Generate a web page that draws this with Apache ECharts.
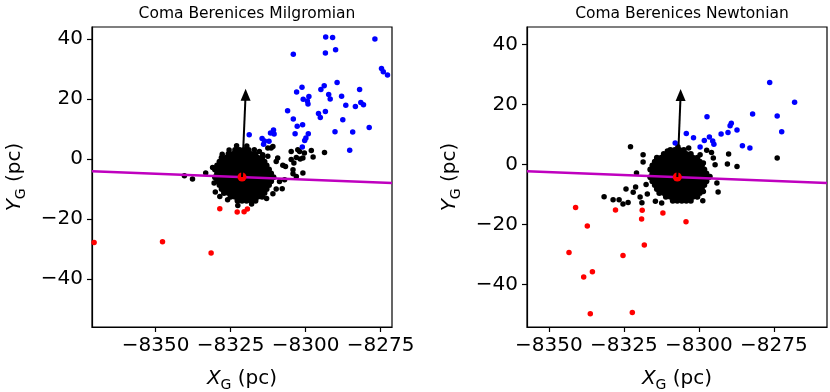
<!DOCTYPE html>
<html><head><meta charset="utf-8">
<script src="https://cdn.jsdelivr.net/npm/echarts@6/dist/echarts.min.js"></script>
<style>html,body{margin:0;padding:0;background:#fff}#c{width:830px;height:392px}</style>
</head><body><div id="c"></div>
<script>
const titles = ['Coma Berenices Milgromian', 'Coma Berenices Newtonian'];
const xTicks = [-8350, -8325, -8300, -8275];
const yTicks = [-40, -20, 0, 20, 40];
const xRanges = [[-8371.2, -8271.2], [-8357.3, -8257.3]];
const yRanges = [[-56, 44], [-54.1, 45.9]];

// dense core of each cluster, rows: [y, [x...]]
const coreRowsL = [
 [3.0, [-8323.5,-8322.0,-8320.5,-8319.0]],
 [1.7, [-8325.7,-8324.2,-8322.7,-8321.2,-8319.7,-8318.2,-8316.7]],
 [0.4, [-8328.0,-8326.5,-8325.0,-8323.5,-8322.0,-8320.5,-8319.0,-8317.5,-8316.0,-8314.5]],
 [-0.9, [-8328.7,-8327.2,-8325.7,-8324.2,-8322.7,-8321.2,-8319.7,-8318.2,-8316.7,-8315.2,-8313.7]],
 [-2.2, [-8329.5,-8328.0,-8326.5,-8325.0,-8323.5,-8322.0,-8320.5,-8319.0,-8317.5,-8316.0,-8314.5,-8313.0]],
 [-3.5, [-8330.2,-8328.7,-8327.2,-8325.7,-8324.2,-8322.7,-8321.2,-8319.7,-8318.2,-8316.7,-8315.2,-8313.7,-8312.2]],
 [-4.8, [-8329.5,-8328.0,-8326.5,-8325.0,-8323.5,-8322.0,-8320.5,-8319.0,-8317.5,-8316.0,-8314.5,-8313.0,-8311.5]],
 [-6.1, [-8330.2,-8328.7,-8327.2,-8325.7,-8324.2,-8322.7,-8321.2,-8319.7,-8318.2,-8316.7,-8315.2,-8313.7,-8312.2,-8310.7]],
 [-7.4, [-8329.5,-8328.0,-8326.5,-8325.0,-8323.5,-8322.0,-8320.5,-8319.0,-8317.5,-8316.0,-8314.5,-8313.0,-8311.5]],
 [-8.7, [-8328.7,-8327.2,-8325.7,-8324.2,-8322.7,-8321.2,-8319.7,-8318.2,-8316.7,-8315.2,-8313.7,-8312.2]],
 [-10.0, [-8328.0,-8326.5,-8325.0,-8323.5,-8322.0,-8320.5,-8319.0,-8317.5,-8316.0,-8314.5,-8313.0]],
 [-11.3, [-8327.2,-8325.7,-8324.2,-8322.7,-8321.2,-8319.7,-8318.2,-8316.7,-8315.2,-8313.7]],
 [-12.6, [-8325.0,-8323.5,-8322.0,-8320.5,-8319.0,-8317.5,-8316.0,-8314.5]],
 [-13.9, [-8322.7,-8321.2,-8319.7,-8318.2,-8316.7]]
];
const coreRowsR = [
 [4.9, [-8309.5,-8308.0,-8306.5,-8305.0]],
 [3.6, [-8311.7,-8310.2,-8308.7,-8307.2,-8305.7,-8304.2,-8302.7]],
 [2.3, [-8314.0,-8312.5,-8311.0,-8309.5,-8308.0,-8306.5,-8305.0,-8303.5,-8302.0,-8300.5]],
 [1.0, [-8314.7,-8313.2,-8311.7,-8310.2,-8308.7,-8307.2,-8305.7,-8304.2,-8302.7,-8301.2,-8299.7]],
 [-0.3, [-8315.5,-8314.0,-8312.5,-8311.0,-8309.5,-8308.0,-8306.5,-8305.0,-8303.5,-8302.0,-8300.5,-8299.0]],
 [-1.6, [-8316.2,-8314.7,-8313.2,-8311.7,-8310.2,-8308.7,-8307.2,-8305.7,-8304.2,-8302.7,-8301.2,-8299.7,-8298.2]],
 [-2.9, [-8315.5,-8314.0,-8312.5,-8311.0,-8309.5,-8308.0,-8306.5,-8305.0,-8303.5,-8302.0,-8300.5,-8299.0,-8297.5]],
 [-4.2, [-8316.2,-8314.7,-8313.2,-8311.7,-8310.2,-8308.7,-8307.2,-8305.7,-8304.2,-8302.7,-8301.2,-8299.7,-8298.2,-8296.7]],
 [-5.5, [-8315.5,-8314.0,-8312.5,-8311.0,-8309.5,-8308.0,-8306.5,-8305.0,-8303.5,-8302.0,-8300.5,-8299.0,-8297.5]],
 [-6.8, [-8314.7,-8313.2,-8311.7,-8310.2,-8308.7,-8307.2,-8305.7,-8304.2,-8302.7,-8301.2,-8299.7,-8298.2]],
 [-8.1, [-8314.0,-8312.5,-8311.0,-8309.5,-8308.0,-8306.5,-8305.0,-8303.5,-8302.0,-8300.5,-8299.0]],
 [-9.4, [-8313.2,-8311.7,-8310.2,-8308.7,-8307.2,-8305.7,-8304.2,-8302.7,-8301.2,-8299.7]],
 [-10.7, [-8311.0,-8309.5,-8308.0,-8306.5,-8305.0,-8303.5,-8302.0,-8300.5]],
 [-12.0, [-8308.7,-8307.2,-8305.7,-8304.2,-8302.7]]
];

const blackL = [[-8337.7,-6.7],[-8340.4,-5.6],[-8333.3,-4.7],[-8328.6,-12.5],[-8322.6,-15.5],[-8309.8,-10.0],[-8307.8,-9.9],[-8308.7,-7.5],[-8304.2,-4.9],[-8300.9,-4.7],[-8307.6,-2.1],[-8309.3,0.3],[-8303.9,-1.3],[-8301.8,0.0],[-8304.8,2.5],[-8302.6,3.1],[-8298.1,2.8],[-8297.5,0.7],[-8293.7,2.2],[-8311.5,3.7],[-8317.1,3.1],[-8304.2,-3.6],[-8306.7,-2.5],[-8303.1,-5.8],[-8307.0,-6.9],[-8304.8,-0.2],[-8303.1,0.5],[-8302.0,2.5],[-8300.9,0.3],[-8309.8,-0.8],[-8300.4,2.0],[-8312.6,3.7],[-8310.9,4.2],[-8315.4,2.5],[-8314.3,1.4],[-8312.6,0.9],[-8331.0,-2.8],[-8330.5,-8.0],[-8325.5,3.0],[-8327.8,1.6],[-8330.1,-11.0],[-8326.0,-13.6],[-8318.0,-15.0],[-8313.0,-13.2],[-8310.9,-11.6],[-8323.0,4.4],[-8319.6,4.3]];
const redL = [[-8370.5,-27.8],[-8347.7,-27.6],[-8331.5,-31.3],[-8328.6,-16.6],[-8322.8,-17.7],[-8320.5,-17.6],[-8319.4,-16.7]];
const blueL = [[-8293.3,40.7],[-8291.0,40.5],[-8276.9,40.0],[-8304.1,34.9],[-8293.4,35.3],[-8290.0,36.4],[-8274.7,30.2],[-8274.1,29.1],[-8272.7,28.0],[-8289.5,25.5],[-8293.8,24.4],[-8294.9,23.2],[-8282.0,23.2],[-8301.2,23.9],[-8303.0,22.3],[-8292.3,21.5],[-8288.0,20.9],[-8291.8,20.0],[-8300.8,19.9],[-8298.9,20.8],[-8299.4,19.3],[-8299.2,18.3],[-8281.6,18.8],[-8280.7,18.1],[-8283.4,17.5],[-8286.6,17.9],[-8271.1,19.9],[-8306.0,16.1],[-8295.7,15.2],[-8293.4,15.8],[-8295.1,13.8],[-8304.1,13.3],[-8287.6,13.1],[-8301.0,11.4],[-8302.8,10.9],[-8278.8,10.5],[-8290.2,9.1],[-8284.3,9.0],[-8303.5,8.4],[-8299.1,8.4],[-8318.8,8.1],[-8310.7,9.7],[-8311.7,8.7],[-8310.5,8.3],[-8299.9,7.0],[-8300.3,6.2],[-8314.5,6.8],[-8313.7,6.0],[-8312.2,5.9],[-8314.0,4.9],[-8301.1,4.0],[-8285.3,2.9]];

const blackR = [[-8322.8,6.0],[-8273.9,2.2],[-8290.1,3.6],[-8290.5,0.2],[-8287.3,-0.6],[-8295.8,4.1],[-8318.6,0.9],[-8331.6,-10.7],[-8328.6,-11.7],[-8326.6,-11.7],[-8325.3,-13.1],[-8323.6,-12.6],[-8324.3,-8.1],[-8321.1,-7.4],[-8321.9,-9.2],[-8319.6,-10.8],[-8319.0,-12.7],[-8314.5,-12.2],[-8293.6,-9.1],[-8298.7,-12.0],[-8294.0,-6.1],[-8297.4,4.8],[-8299.6,3.3],[-8295.2,2.2],[-8294.6,0.0],[-8298.5,0.6],[-8296.3,-3.9],[-8298.5,-8.9],[-8300.7,-10.6],[-8318.6,3.3],[-8320.8,-2.8],[-8312.4,-12.8],[-8317.6,-6.6],[-8317.2,-9.8],[-8310.5,4.6],[-8303.4,5.6],[-8307.0,6.0]];
const redR = [[-8341.1,-14.3],[-8337.2,-20.4],[-8343.3,-29.3],[-8338.4,-37.4],[-8335.5,-35.7],[-8336.2,-49.7],[-8322.2,-49.3],[-8325.3,-30.3],[-8318.2,-26.8],[-8327.8,-15.1],[-8318.9,-15.2],[-8319.1,-18.1],[-8312.0,-16.1],[-8304.3,-19.0]];
const blueR = [[-8276.4,27.4],[-8268.1,20.8],[-8282.1,16.9],[-8273.9,16.2],[-8272.4,11.0],[-8297.3,16.0],[-8289.2,13.8],[-8289.6,13.0],[-8287.3,11.6],[-8290.3,10.7],[-8292.6,10.2],[-8304.2,10.4],[-8301.8,9.0],[-8296.5,9.2],[-8298.2,8.1],[-8295.4,7.9],[-8295.0,6.8],[-8299.6,5.9],[-8307.9,7.2],[-8285.5,6.3],[-8283.0,5.6]];

const lineL = [[-8371.2,-4.1],[-8271.2,-8.0]];
const lineR = [[-8357.3,-2.2],[-8257.3,-6.1]];
const centerL = [-8321.2,-6.0];
const centerR = [-8307.2,-4.1];
const arrowTipL = [-8320.0,21.4];
const arrowTipR = [-8306.1,23.2];

const FONT = 'DejaVu Sans';
const fmt = v => String(v).replace('-', '\u2212');
const flat = rows => rows.flatMap(([y, xs]) => xs.map(x => [x, y]));

function nameRich() {
  return {
    i: {fontFamily: FONT, fontStyle: 'italic', fontSize: 20, color: '#000', lineHeight: 26, verticalAlign: 'middle'},
    s: {fontFamily: FONT, fontSize: 14, color: '#000', lineHeight: 14, verticalAlign: 'bottom'},
    n: {fontFamily: FONT, fontSize: 20, color: '#000', lineHeight: 26, verticalAlign: 'middle'}
  };
}
function axisCommon(i, range, ticks, margin) {
  return {
    type: 'value', gridIndex: i, min: range[0], max: range[1], scale: true,
    axisLine: {show: true, onZero: false, lineStyle: {color: '#000', width: 1.2}},
    axisTick: {show: true, length: 5, inside: false, lineStyle: {color: '#000', width: 1.2}, customValues: ticks},
    axisLabel: {fontSize: 20, color: '#000', fontFamily: FONT, margin: margin, customValues: ticks, formatter: fmt},
    splitLine: {show: false}
  };
}
const xAxes = [0, 1].map(i => Object.assign(axisCommon(i, xRanges[i], xTicks, 9), {
  name: '{i|X}{s|G}{n| (pc)}', nameLocation: 'middle', nameGap: 39, nameTextStyle: {rich: nameRich()}
}));
const yAxes = [0, 1].map(i => Object.assign(axisCommon(i, yRanges[i], yTicks, 9), {
  name: '{i|Y}{s|G}{n| (pc)}', nameLocation: 'middle', nameGap: 64, nameTextStyle: {rich: nameRich()}
}));

const panels = [
  {core: coreRowsL, black: blackL, red: redL, blue: blueL, line: lineL, center: centerL, tip: arrowTipL},
  {core: coreRowsR, black: blackR, red: redR, blue: blueR, line: lineR, center: centerR, tip: arrowTipR}
];
const series = [];
panels.forEach((p, i) => {
  const ax = {xAxisIndex: i, yAxisIndex: i};
  series.push(Object.assign({type: 'scatter', symbolSize: 6, itemStyle: {color: '#000', opacity: 1}, data: flat(p.core), z: 2}, ax));
  series.push(Object.assign({type: 'scatter', symbolSize: 5.5, itemStyle: {color: '#000', opacity: 1}, data: p.black, z: 2}, ax));
  series.push(Object.assign({type: 'scatter', symbolSize: 5.5, itemStyle: {color: '#ff0000', opacity: 1}, data: p.red, z: 2}, ax));
  series.push(Object.assign({type: 'scatter', symbolSize: 5.5, itemStyle: {color: '#0000ff', opacity: 1}, data: p.blue, z: 2}, ax));
  series.push(Object.assign({type: 'line', data: p.line, showSymbol: false, symbol: 'none', lineStyle: {color: '#bf00bf', width: 2.6}, z: 3}, ax));
  series.push(Object.assign({type: 'scatter', symbolSize: 9, itemStyle: {color: '#ff0000', opacity: 1}, data: [p.center], z: 4}, ax));
  series.push(Object.assign({type: 'line', showSymbol: true, lineStyle: {color: '#000', width: 2}, z: 5,
    data: [{value: p.center, symbol: 'none'}, {value: p.tip, symbol: 'triangle', symbolSize: [10, 12], itemStyle: {color: '#000'}}]}, ax));
});

const chart = echarts.init(document.getElementById('c'), null, {renderer: 'canvas'});
chart.setOption({
  animation: false,
  backgroundColor: '#fff',
  title: [
    {text: titles[0], left: 242, top: 1, textAlign: 'center', textStyle: {fontFamily: FONT, fontSize: 15.5, fontWeight: 'normal', color: '#000'}},
    {text: titles[1], left: 677, top: 1, textAlign: 'center', textStyle: {fontFamily: FONT, fontSize: 15.5, fontWeight: 'normal', color: '#000'}}
  ],
  grid: [
    {left: 92, top: 27, width: 300, height: 300, show: true, borderColor: '#000', borderWidth: 1.2, backgroundColor: 'transparent', containLabel: false, outerBoundsMode: 'none'},
    {left: 527, top: 27, width: 300, height: 300, show: true, borderColor: '#000', borderWidth: 1.2, backgroundColor: 'transparent', containLabel: false, outerBoundsMode: 'none'}
  ],
  xAxis: xAxes,
  yAxis: yAxes,
  series: series
});
</script></body></html>
